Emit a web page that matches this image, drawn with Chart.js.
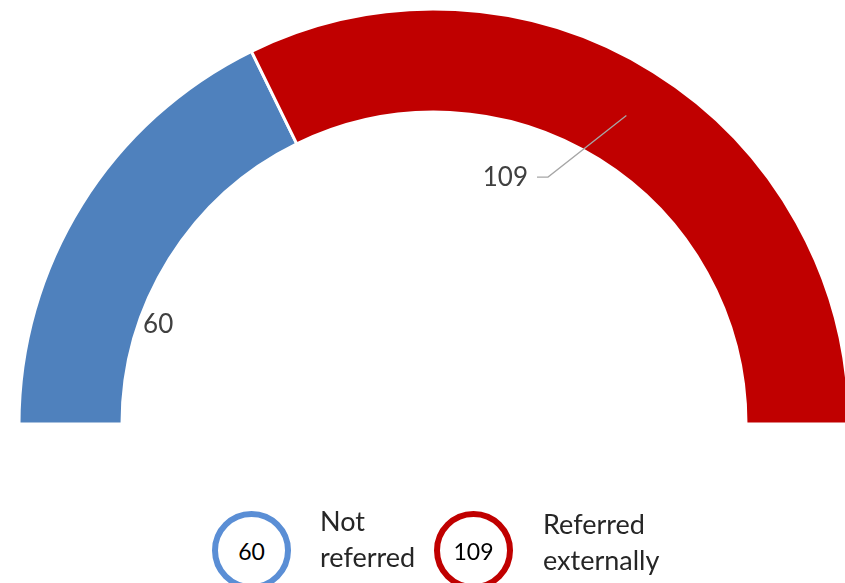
<!DOCTYPE html>
<html>
<head>
<meta charset="utf-8">
<script src="https://cdn.jsdelivr.net/npm/chart.js@4/dist/chart.umd.min.js"></script>
<style>
    html, body { margin: 0; padding: 0; background: #fff; overflow: hidden; }
    #wrap { position: relative; width: 845px; height: 583px; font-family: Lato, "Open Sans", sans-serif; }
    #gauge { position: absolute; left: 0; top: 0; }
    .ring {
        position: absolute; box-sizing: border-box; width: 79px; height: 79px;
        border: 6px solid; border-radius: 50%; background: #fff;
        display: flex; align-items: center; justify-content: center;
        font-size: 23px; color: #000;
    }
    .caption { position: absolute; font-size: 27px; line-height: 36px; color: #262626; }
</style>
</head>
<body>
<div id="wrap">
    <canvas id="gauge" width="845" height="583"></canvas>
    <div id="legend"></div>
</div>
<script>
"use strict";

// --- Data ---
const categories = ['Not referred', 'Referred externally'];
const counts = [60, 109];
const sliceColors = ['#4f81bd', '#c00000'];
const ringColors = ['#5a8ed5', '#c00000'];

// --- Legend (ring badges with counts) ---
const legendSlots = [
    { ring: 212, text: 320, top: 503, width: 110 },
    { ring: 434, text: 543, top: 506, width: 140 }
];
const legendEl = document.getElementById('legend');
categories.forEach((name, i) => {
    const ring = document.createElement('div');
    ring.className = 'ring';
    ring.style.left = legendSlots[i].ring + 'px';
    ring.style.top = '511px';
    ring.style.borderColor = ringColors[i];
    ring.textContent = counts[i];
    legendEl.appendChild(ring);

    const cap = document.createElement('div');
    cap.className = 'caption';
    cap.style.left = legendSlots[i].text + 'px';
    cap.style.top = legendSlots[i].top + 'px';
    cap.style.width = legendSlots[i].width + 'px';
    cap.textContent = name;
    legendEl.appendChild(cap);
});

// --- Value labels drawn next to the slices ---
const sliceLabels = {
    id: 'sliceLabels',
    afterDatasetsDraw(chart) {
        const arcs = chart.getDatasetMeta(0).data;
        const ctx = chart.ctx;
        const cx = arcs[0].x, cy = arcs[0].y;
        const polar = (deg, r) => ({ x: cx + r * Math.cos(deg * Math.PI / 180), y: cy + r * Math.sin(deg * Math.PI / 180) });

        ctx.save();
        ctx.font = '26px Lato, "Open Sans", sans-serif';
        ctx.fillStyle = '#404040';
        ctx.textBaseline = 'middle';

        // first slice: label just inside the hole
        const p0 = polar(-160.27, 293);
        ctx.textAlign = 'center';
        ctx.fillText(String(counts[0]), p0.x, p0.y);

        // second slice: leader line from the slice centre to the label
        const mid = arcs[1].getCenterPoint();
        const elbow = polar(-65.22, 272);
        ctx.strokeStyle = '#a6a6a6';
        ctx.lineWidth = 1.3;
        ctx.beginPath();
        ctx.moveTo(mid.x, mid.y);
        ctx.lineTo(elbow.x, elbow.y);
        ctx.lineTo(elbow.x - 11, elbow.y);
        ctx.stroke();
        ctx.textAlign = 'right';
        ctx.fillText(String(counts[1]), elbow.x - 20, elbow.y + 1);
        ctx.restore();
    }
};

const Chart = window.Chart;
new Chart(document.getElementById('gauge').getContext('2d'), {
    type: 'doughnut',
    data: {
        labels: categories,
        datasets: [{
            data: counts,
            backgroundColor: sliceColors,
            borderColor: '#ffffff',
            borderWidth: 3,
            clip: false
        }]
    },
    options: {
        responsive: false,
        animation: false,
        rotation: -90,
        circumference: 180,
        radius: 415,
        cutout: '75.18%',
        layout: { padding: { left: 23, right: 0, top: 0, bottom: 150 } },
        plugins: {
            legend: { display: false },
            tooltip: { enabled: false }
        }
    },
    plugins: [sliceLabels]
});
</script>
</body>
</html>
